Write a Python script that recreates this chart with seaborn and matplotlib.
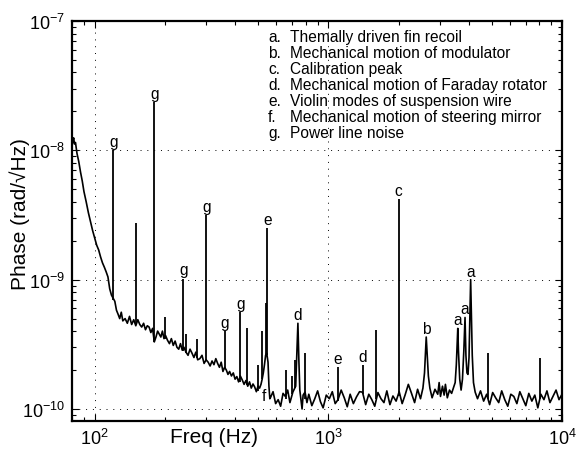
"""
phase noise spectrum, log-log
"""
import numpy as np
import pandas as pd
import seaborn as sns
import matplotlib
matplotlib.use('Agg')
import matplotlib.pyplot as plt
from matplotlib.ticker import LogLocator, NullFormatter

# noise floor, amplitudes in units of 1e-10 rad/sqrt(Hz)
drop_freq = [80, 80.7, 81.3, 82, 82.8, 84, 85.5, 87, 88.5, 90, 92, 94, 96, 98, 100,
             102, 104, 106, 108, 110, 112, 114, 116, 118, 120, 122, 124]
drop_amp = [108, 118, 125, 112, 115, 95, 82, 68, 58, 48, 40, 33, 28, 24, 21,
            18.5, 17, 15, 13.5, 12.5, 11.5, 10.5, 8.5, 7.6, 7.2, 6.8, 5.8]

mid_freq = [126, 128, 130, 132, 135, 138, 141, 144, 147, 150,
            153, 156, 159, 162, 165, 168, 171, 174, 177, 180,
            183, 186, 189, 192, 195, 198, 201, 205, 209, 213,
            217, 221, 225, 229, 233, 237, 241, 246, 251, 256,
            261, 266, 271, 276, 282, 288, 294, 300, 306, 312,
            318, 324, 330, 336, 342, 348, 354, 360, 366, 372,
            378, 385, 392, 399, 406, 413, 420, 428, 436, 444,
            452, 460, 468, 476, 484, 492, 500, 508, 515, 521,
            527, 533, 539, 545, 552, 557, 562]
mid_amp = [5.4, 5.0, 5.6, 4.8, 5.0, 4.6, 5.2, 4.5, 4.9, 4.4,
           4.9, 4.5, 4.3, 4.6, 4.1, 4.4, 4.3, 3.9, 4.2, 3.3,
           3.6, 4.0, 3.8, 3.6, 4.0, 3.5, 3.7, 3.4, 3.2, 3.5,
           3.1, 3.35, 3.0, 2.9, 3.2, 2.85, 3.0, 2.75, 2.6, 2.9,
           2.7, 2.5, 2.75, 2.4, 2.45, 2.6, 2.25, 2.4, 2.3, 2.15,
           2.35, 2.2, 2.45, 2.25, 2.1, 2.3, 1.95, 2.1, 2.0, 1.85,
           1.95, 1.8, 1.9, 1.7, 1.78, 1.62, 1.8, 1.68, 1.55, 1.66,
           1.5, 1.62, 1.45, 1.56, 1.48, 1.36, 1.5, 1.45, 1.55, 1.7,
           1.9, 2.2, 2.6, 2.7, 2.3, 1.5, 1.2]

flat_freq = [565, 580, 595, 610, 625, 640, 655, 670, 685, 705,
             725, 733, 741, 748, 755, 765, 772, 780, 795, 810,
             825, 850, 875, 900, 925, 950, 980, 1010, 1040, 1070,
             1100, 1135, 1170, 1205, 1240, 1280, 1320, 1360, 1400, 1445,
             1490, 1535, 1580, 1630, 1680, 1730, 1780, 1835, 1890, 1950,
             2010, 2070, 2130, 2200, 2270, 2340, 2410, 2480, 2540, 2580,
             2610, 2624, 2645, 2680, 2720, 2780, 2860, 2940, 2980, 3020,
             3080, 3130, 3170, 3230, 3300, 3370, 3430, 3490, 3530, 3560,
             3581, 3605, 3650, 3700, 3750, 3800, 3846, 3880, 3920, 3960,
             4000, 4040, 4065, 4090, 4130, 4180, 4250, 4350, 4480, 4620,
             4760, 4900, 5050, 5200, 5360, 5520, 5690, 5860, 6040, 6220,
             6410, 6600, 6800, 7000, 7210, 7430, 7650, 7880, 8120, 8370,
             8620, 8880, 9150, 9430, 9710, 10000]
flat_amp = [1.22, 1.36, 1.1, 1.18, 1.05, 1.32, 1.25, 1.4, 1.12, 1.35,
            1.5, 2.6, 4.6, 2.4, 1.4, 1.15, 1.0, 1.28, 1.35, 1.12,
            1.3, 1.06, 1.2, 1.38, 1.14, 1.02, 1.28, 1.2, 1.36, 1.1,
            1.18, 1.4, 1.22, 1.04, 1.3, 1.1, 1.24, 1.36, 1.35, 1.08,
            1.3, 1.18, 1.05, 1.34, 1.2, 1.12, 1.38, 1.08, 1.26, 1.15,
            1.36, 1.1, 1.28, 1.55, 1.32, 1.12, 1.42, 1.2, 1.45, 1.9,
            3.0, 3.6, 2.8, 1.8, 1.45, 1.22, 1.42, 1.3, 1.6, 1.25,
            1.5, 1.28, 1.55, 1.22, 1.4, 1.32, 1.45, 1.6, 2.2, 3.2,
            4.2, 2.8, 1.7, 1.4, 1.7, 2.8, 5.1, 2.6, 1.9, 1.85,
            2.5, 6.0, 10.0, 6.0, 2.6, 1.6, 1.35, 1.2, 1.38, 1.15,
            1.3, 1.08, 1.34, 1.22, 1.12, 1.38, 1.18, 1.05, 1.3, 1.25,
            1.1, 1.36, 1.2, 1.06, 1.32, 1.15, 1.28, 1.02, 1.3, 1.18,
            1.38, 1.12, 1.25, 1.4, 1.18, 1.3]

# narrow lines (same units)
spike_freq = [120, 150, 180, 200, 240, 247, 273, 300, 360, 420,
              450, 500, 521, 540, 549, 661, 700, 720, 791, 1100,
              1403, 1607, 2000, 4807, 8054]
spike_top = [100, 27.5, 237, 5.1, 10.2, 3.8, 3.5, 31.5, 4.0, 5.6,
             4.2, 2.2, 4.0, 6.6, 25, 2.0, 1.8, 2.4, 2.7, 2.1,
             2.2, 4.1, 42, 2.7, 2.5]
spike_base = [7.0, 4.5, 3.3, 3.5, 2.8, 2.7, 2.5, 2.35, 2.05, 1.62,
              1.52, 1.38, 1.7, 2.6, 2.6, 1.2, 1.3, 1.45, 1.2, 1.15,
              1.3, 1.2, 1.25, 1.2, 1.2]

# peak letters
mark_letter = ['g', 'g', 'g', 'g', 'g', 'g', 'e', 'e', 'd', 'd', 'c', 'b', 'a', 'a', 'a']
mark_freq = [120, 180, 240, 300, 360, 420, 549, 1100, 741, 1403, 2000, 2624, 3581, 3846, 4065]
mark_amp = [100, 237, 10.2, 31.5, 4.0, 5.6, 25, 2.1, 4.6, 2.2, 42, 3.6, 4.2, 5.1, 10.0]
f_mark_freq = 528
f_mark_amp = 1.26

key_letters = ['a.', 'b.', 'c.', 'd.', 'e.', 'f.', 'g.']
key_text = ['Themally driven fin recoil',
            'Mechanical motion of modulator',
            'Calibration peak',
            'Mechanical motion of Faraday rotator',
            'Violin modes of suspension wire',
            'Mechanical motion of steering mirror',
            'Power line noise']

UNIT = 1e-10

sns.set_theme(style='ticks')
plt.rcParams['font.family'] = ['Liberation Sans', 'DejaVu Sans']
plt.rcParams['mathtext.fontset'] = 'custom'
plt.rcParams['mathtext.rm'] = 'Liberation Sans'
plt.rcParams['mathtext.it'] = 'Liberation Sans:italic'
plt.rcParams['mathtext.bf'] = 'Liberation Sans:bold'
for key in ['text.color', 'axes.labelcolor', 'xtick.color', 'ytick.color', 'axes.edgecolor']:
    plt.rcParams[key] = 'black'

fig = plt.figure(figsize=(5.76, 4.64), dpi=100)
ax = fig.add_axes([0.125, 0.0905, 0.8507, 0.862])

df = pd.DataFrame({
    'freq': drop_freq + mid_freq + flat_freq,
    'amp': np.array(drop_amp + mid_amp + flat_amp) * UNIT,
})
sns.lineplot(data=df, x='freq', y='amp', ax=ax, color='black', linewidth=1.2,
             estimator=None, sort=False)
ax.vlines(spike_freq, np.array(spike_base) * UNIT, np.array(spike_top) * UNIT,
          color='black', linewidth=1.3)

ax.set_xscale('log')
ax.set_yscale('log')
ax.set_xlim(80, 1e4)
ax.set_ylim(8.07e-11, 1e-7)

for ax_ in (ax.xaxis, ax.yaxis):
    ax_.set_major_locator(LogLocator(base=10))
    ax_.set_minor_locator(LogLocator(base=10, subs=np.arange(2, 10)))
    ax_.set_minor_formatter(NullFormatter())

ax.grid(which='major', linestyle=(0, (1, 6)), color='black', linewidth=0.7)
ax.grid(which='minor', visible=False)
ax.tick_params(which='both', direction='in', top=True, right=True,
               color='black', width=0.8)
ax.tick_params(which='major', length=5, labelsize=13, pad=5)
ax.tick_params(which='minor', length=3)
for sp in ax.spines.values():
    sp.set_linewidth(1.6)

# letters over the peaks
for let, fq, am in zip(mark_letter, mark_freq, mark_amp):
    ax.text(fq, am * UNIT * 1.02, let, ha='center', va='bottom', fontsize=11.2)
ax.text(f_mark_freq, f_mark_amp * UNIT, 'f', ha='center', va='center', fontsize=11.2)

# key
for i, (let, txt) in enumerate(zip(key_letters, key_text)):
    yy = (422 - (37 + 16 * i)) / 400
    ax.text(0.40, yy, let, transform=ax.transAxes, ha='left', va='center', fontsize=11.2)
    ax.text(0.445, yy, txt, transform=ax.transAxes, ha='left', va='center', fontsize=11.2)

ax.set_xlabel('Freq (Hz)', fontsize=15)
ax.set_ylabel('Phase (rad/\u221aHz)', fontsize=15)
ax.xaxis.set_label_coords(0.29, -0.016)
ax.yaxis.set_label_coords(-0.085, 0.52)

fig.savefig('out.png', dpi=100)
plt.close(fig)
